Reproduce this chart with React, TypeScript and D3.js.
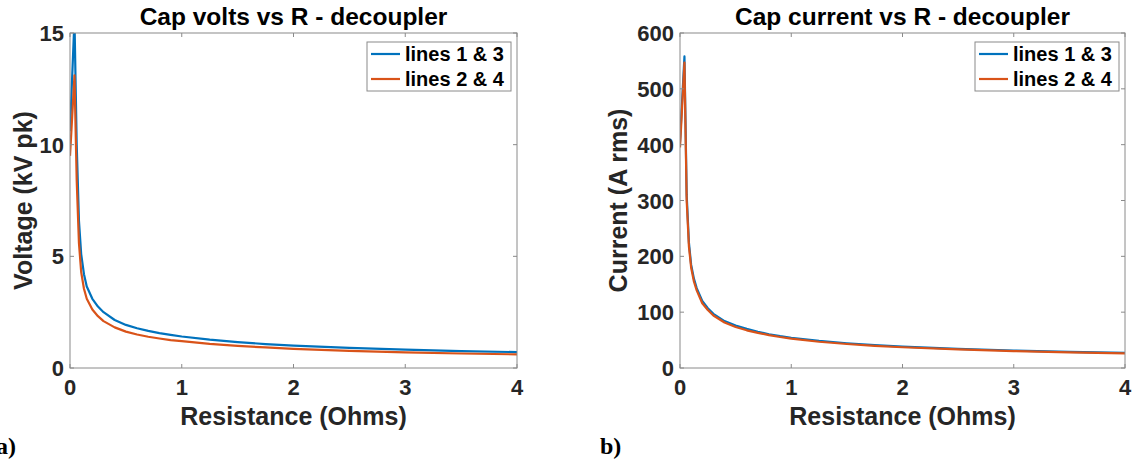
import React from "react";
import * as d3 from "d3";

const resistance = [0, 0.04, 0.06, 0.08, 0.1, 0.125, 0.15, 0.2, 0.25, 0.3, 0.4, 0.5, 0.6, 0.7, 0.8, 0.9, 1.0, 1.25, 1.5, 1.75, 2.0, 2.5, 3.0, 3.5, 4.0];

const voltsLines13 = [10.6, 15.6, 10.0, 6.6, 5.1, 4.2, 3.65, 3.1, 2.75, 2.5, 2.15, 1.93, 1.78, 1.66, 1.56, 1.48, 1.41, 1.27, 1.16, 1.07, 1.0, 0.9, 0.82, 0.76, 0.71];
const voltsLines24 = [9.5, 13.1, 8.4, 5.6, 4.3, 3.55, 3.1, 2.62, 2.32, 2.1, 1.82, 1.63, 1.5, 1.4, 1.32, 1.25, 1.2, 1.08, 0.99, 0.92, 0.86, 0.77, 0.7, 0.65, 0.61];

const currentLines13 = [405, 558, 310, 225, 185, 160, 143, 120, 107, 97, 84, 76, 70, 65, 60.5, 57, 54, 48.5, 44.3, 41, 38.3, 34.3, 31.3, 29, 27.2];
const currentLines24 = [395, 547, 300, 218, 180, 155, 139, 116, 104, 94, 81.5, 73.5, 67.5, 63, 59, 55.5, 52.5, 47, 43, 39.8, 37.2, 33.3, 30.4, 28.1, 26.3];

const xTicks = [0, 1, 2, 3, 4];
const voltTicks = [0, 5, 10, 15];
const currentTicks = [0, 100, 200, 300, 400, 500, 600];
const legendLabels = ["lines 1 & 3", "lines 2 & 4"];
const colors = ["#0072BD", "#D95319"];

const FONT = "'Liberation Sans', Arial, Helvetica, sans-serif";
const TEXT = "#262626";
const AXIS = "#8a8a8a";

type PanelProps = {
  id: string;
  left: number;
  right: number;
  top: number;
  bottom: number;
  yMax: number;
  yTicks: number[];
  series: number[][];
  title: string;
  yLabel: string;
  yLabelX: number;
  tag: string;
  tagX: number;
};

function Panel(p: PanelProps) {
  const x = d3.scaleLinear().domain([0, 4]).range([p.left, p.right]);
  const y = d3.scaleLinear().domain([0, p.yMax]).range([p.bottom, p.top]);
  const line = d3
    .line<number>()
    .x((_, i) => x(resistance[i]))
    .y((v) => y(v))
    .curve(d3.curveLinear);
  const tl = 4;
  const cx = (p.left + p.right) / 2;
  const cy = (p.top + p.bottom) / 2;
  const legW = 144;
  const legX = p.right - 6 - legW;
  const legY = p.top + 9;
  return (
    <g>
      <defs>
        <clipPath id={p.id}>
          <rect x={p.left} y={p.top} width={p.right - p.left} height={p.bottom - p.top} />
        </clipPath>
      </defs>
      <rect x={p.left} y={p.top} width={p.right - p.left} height={p.bottom - p.top} fill="#fff" />
      <g clipPath={`url(#${p.id})`}>
        {p.series.map((s, i) => (
          <path key={i} d={line(s) || ""} fill="none" stroke={colors[i]} strokeWidth={2.2} strokeLinejoin="round" />
        ))}
      </g>
      <rect x={p.left} y={p.top} width={p.right - p.left} height={p.bottom - p.top} fill="none" stroke={AXIS} strokeWidth={1} />
      {xTicks.map((t) => (
        <g key={"x" + t}>
          <line x1={x(t)} x2={x(t)} y1={p.bottom} y2={p.bottom - tl} stroke={AXIS} />
          <line x1={x(t)} x2={x(t)} y1={p.top} y2={p.top + tl} stroke={AXIS} />
          <text x={x(t)} y={p.bottom + 27} textAnchor="middle" fontSize={22} fontWeight="bold" fill={TEXT} fontFamily={FONT}>
            {t}
          </text>
        </g>
      ))}
      {p.yTicks.map((t) => (
        <g key={"y" + t}>
          <line x1={p.left} x2={p.left + tl} y1={y(t)} y2={y(t)} stroke={AXIS} />
          <line x1={p.right} x2={p.right - tl} y1={y(t)} y2={y(t)} stroke={AXIS} />
          <text x={p.left - 6} y={y(t) + 8} textAnchor="end" fontSize={22} fontWeight="bold" fill={TEXT} fontFamily={FONT}>
            {t}
          </text>
        </g>
      ))}
      <text x={cx} y={p.top - 8} textAnchor="middle" fontSize={24.5} fontWeight="bold" fill="#000" fontFamily={FONT}>
        {p.title}
      </text>
      <text x={cx} y={p.bottom + 57} textAnchor="middle" fontSize={25} fontWeight="bold" fill={TEXT} fontFamily={FONT}>
        Resistance (Ohms)
      </text>
      <text
        transform={`translate(${p.yLabelX},${cy}) rotate(-90)`}
        textAnchor="middle"
        fontSize={25}
        fontWeight="bold"
        fill={TEXT}
        fontFamily={FONT}
      >
        {p.yLabel}
      </text>
      <rect x={legX} y={legY} width={legW} height={49} fill="#fff" stroke={AXIS} strokeWidth={1} />
      {legendLabels.map((lab, i) => (
        <g key={lab}>
          <line x1={legX + 4} x2={legX + 33} y1={legY + 12 + i * 25} y2={legY + 12 + i * 25} stroke={colors[i]} strokeWidth={2.2} />
          <text x={legX + 38} y={legY + 19 + i * 25} fontSize={20} fontWeight="bold" fill="#000" fontFamily={FONT}>
            {lab}
          </text>
        </g>
      ))}
      <text x={p.tagX} y={454} fontSize={24} fontWeight="bold" fill="#000" fontFamily="'Liberation Serif', 'Times New Roman', serif">
        {p.tag}
      </text>
    </g>
  );
}

export default function App() {
  return (
    <svg width={1134} height={463} style={{ position: "absolute", left: 0, top: 0, background: "#fff" }}>
      <rect width={1134} height={463} fill="#fff" />
      <Panel
        id="clipA"
        left={70}
        right={517}
        top={33}
        bottom={368}
        yMax={15}
        yTicks={voltTicks}
        series={[voltsLines13, voltsLines24]}
        title="Cap volts vs R - decoupler"
        yLabel="Voltage (kV pk)"
        yLabelX={32}
        tag="a)"
        tagX={-4}
      />
      <Panel
        id="clipB"
        left={680}
        right={1125}
        top={33}
        bottom={368}
        yMax={600}
        yTicks={currentTicks}
        series={[currentLines13, currentLines24]}
        title="Cap current vs R - decoupler"
        yLabel="Current (A rms)"
        yLabelX={627}
        tag="b)"
        tagX={600}
      />
    </svg>
  );
}
